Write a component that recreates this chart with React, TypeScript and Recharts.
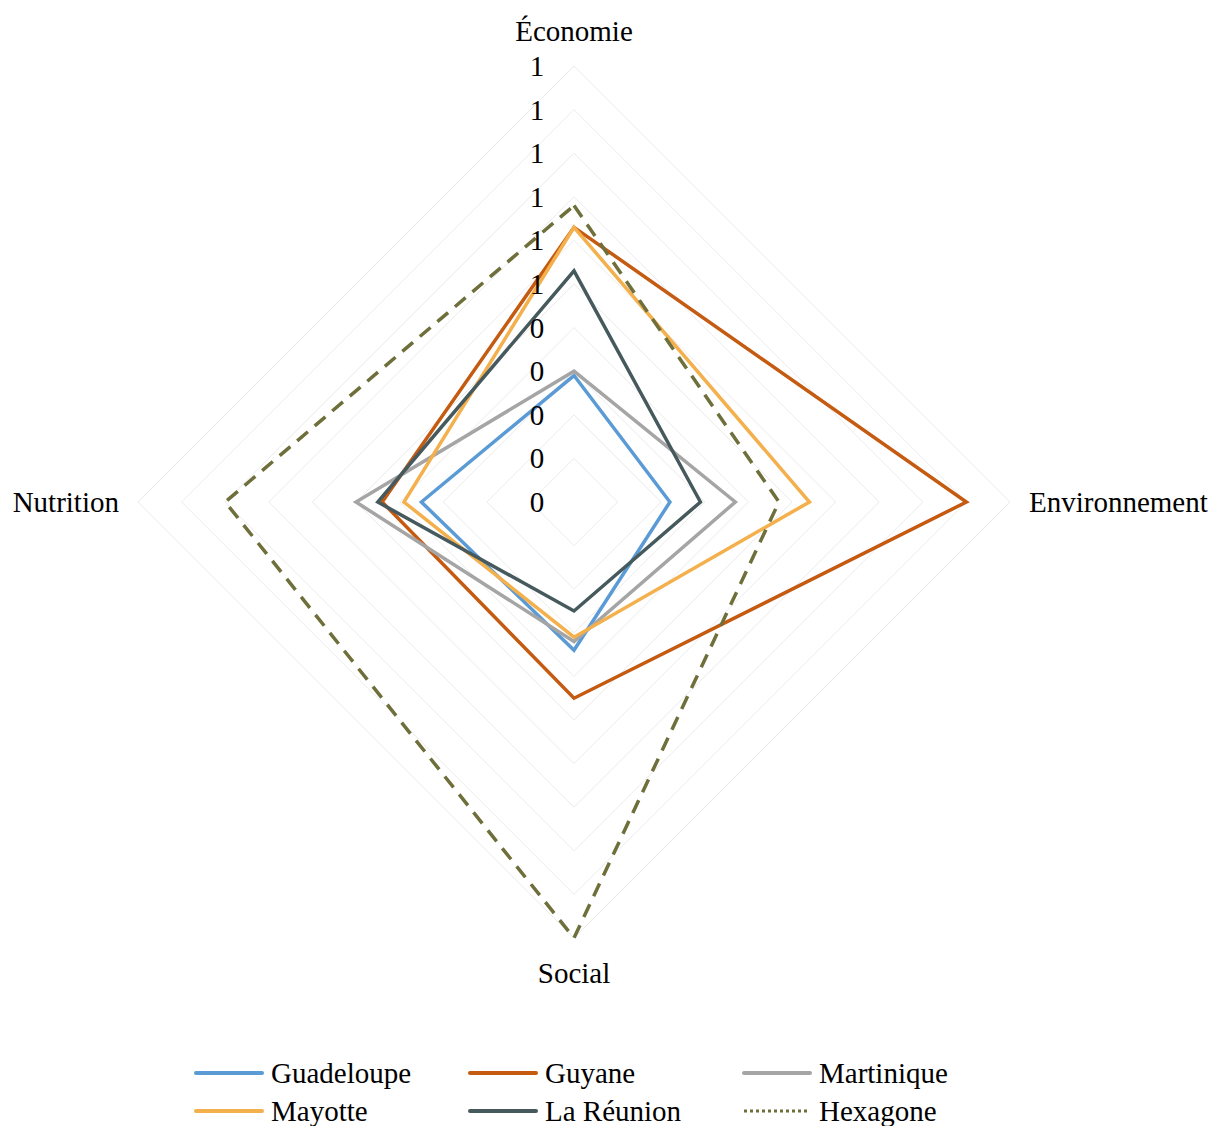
import React from "react";
import {
  Legend,
  PolarAngleAxis,
  PolarGrid,
  PolarRadiusAxis,
  Radar,
  RadarChart,
} from "recharts";

const axes = ["Économie", "Environnement", "Social", "Nutrition"];
const radiusTicks = [0, 0.1, 0.2, 0.3, 0.4, 0.5, 0.6, 0.7, 0.8, 0.9, 1];

const guadeloupe = [0.29, 0.22, 0.34, 0.35];
const guyane = [0.63, 0.9, 0.45, 0.44];
const martinique = [0.3, 0.37, 0.32, 0.5];
const mayotte = [0.63, 0.54, 0.31, 0.39];
const reunion = [0.53, 0.29, 0.25, 0.45];
const hexagone = [0.68, 0.47, 1.0, 0.8];

const seriesNames = ["Guadeloupe", "Guyane", "Martinique", "Mayotte", "La Réunion", "Hexagone"];
const seriesValues = [guadeloupe, guyane, martinique, mayotte, reunion, hexagone];
const seriesColors = ["#5B9BD5", "#C55A11", "#A5A5A5", "#F3B04C", "#465A5E", "#6E6F3A"];

const data = axes.map((axis, i) => {
  const row: Record<string, string | number> = { axis };
  seriesNames.forEach((name, s) => {
    row[name] = seriesValues[s][i];
  });
  return row;
});

const W = 1213;
const H = 1126;
const CX = 574;
const CY = 502;
const R = 436;
const FONT = "'Liberation Serif', 'Times New Roman', serif";

function AngleTick(props: any) {
  const { payload } = props;
  const rad = (payload.coordinate * Math.PI) / 180;
  const ux = Math.cos(rad);
  const uy = -Math.sin(rad);
  let x = CX;
  let y = CY;
  let anchor: "start" | "middle" | "end" = "middle";
  if (Math.abs(uy) > 0.5) {
    y = CY + uy * (R + 35);
  } else {
    x = CX + ux * (R + 19);
    anchor = ux > 0 ? "start" : "end";
  }
  return (
    <text x={x} y={y} textAnchor={anchor} dominantBaseline="central" fontSize={29} fontFamily={FONT} fill="#000">
      {payload.value}
    </text>
  );
}

function RadiusTick(props: any) {
  const { y, payload } = props;
  return (
    <text x={CX - 37} y={y} textAnchor="middle" dominantBaseline="central" fontSize={29} fontFamily={FONT} fill="#000">
      {Math.round(payload.value)}
    </text>
  );
}

function LegendBox() {
  return (
    <div
      style={{
        display: "grid",
        gridTemplateColumns: "274px 274px 274px",
        gridAutoRows: "38px",
        paddingLeft: 194,
        fontFamily: FONT,
        fontSize: 29,
        color: "#000",
      }}
    >
      {seriesNames.map((name, i) => (
        <div key={name} style={{ display: "flex", alignItems: "center", whiteSpace: "nowrap" }}>
          <svg width={70} height={10} style={{ marginRight: 7 }}>
            {name === "Hexagone" ? (
              <line x1={2} y1={5} x2={68} y2={5} stroke={seriesColors[i]} strokeWidth={3} strokeDasharray="3 3" />
            ) : (
              <line x1={2} y1={5} x2={68} y2={5} stroke={seriesColors[i]} strokeWidth={4} strokeLinecap="round" />
            )}
          </svg>
          <span>{name}</span>
        </div>
      ))}
    </div>
  );
}

export default function App() {
  return (
    <div style={{ position: "absolute", left: 0, top: 0, width: W, height: H, background: "#fff" }}>
      <RadarChart
        width={W}
        height={H}
        data={data}
        cx={CX}
        cy={CY}
        outerRadius={R}
        margin={{ top: 0, right: 0, bottom: 0, left: 0 }}
      >
        <PolarGrid gridType="polygon" radialLines={false} stroke="#EBEBEB" strokeWidth={1} />
        <PolarAngleAxis dataKey="axis" tick={<AngleTick />} tickLine={false} axisLine={false} />
        <PolarRadiusAxis
          type="number"
          scale="linear"
          angle={90}
          domain={[0, 1]}
          ticks={radiusTicks as any}
          tickCount={11}
          allowDecimals
          tick={<RadiusTick />}
          tickLine={false}
          axisLine={false}
        />
        {seriesNames.map((name, i) => (
          <Radar
            key={name}
            name={name}
            dataKey={name}
            stroke={seriesColors[i]}
            strokeWidth={3.5}
            strokeDasharray={name === "Hexagone" ? "14 9" : undefined}
            fill="none"
            fillOpacity={0}
            dot={false}
            isAnimationActive={false}
          />
        ))}
        <Legend
          content={() => <LegendBox />}
          wrapperStyle={{ position: "absolute", left: 0, top: 1054, width: W, height: 76 }}
        />
      </RadarChart>
    </div>
  );
}
